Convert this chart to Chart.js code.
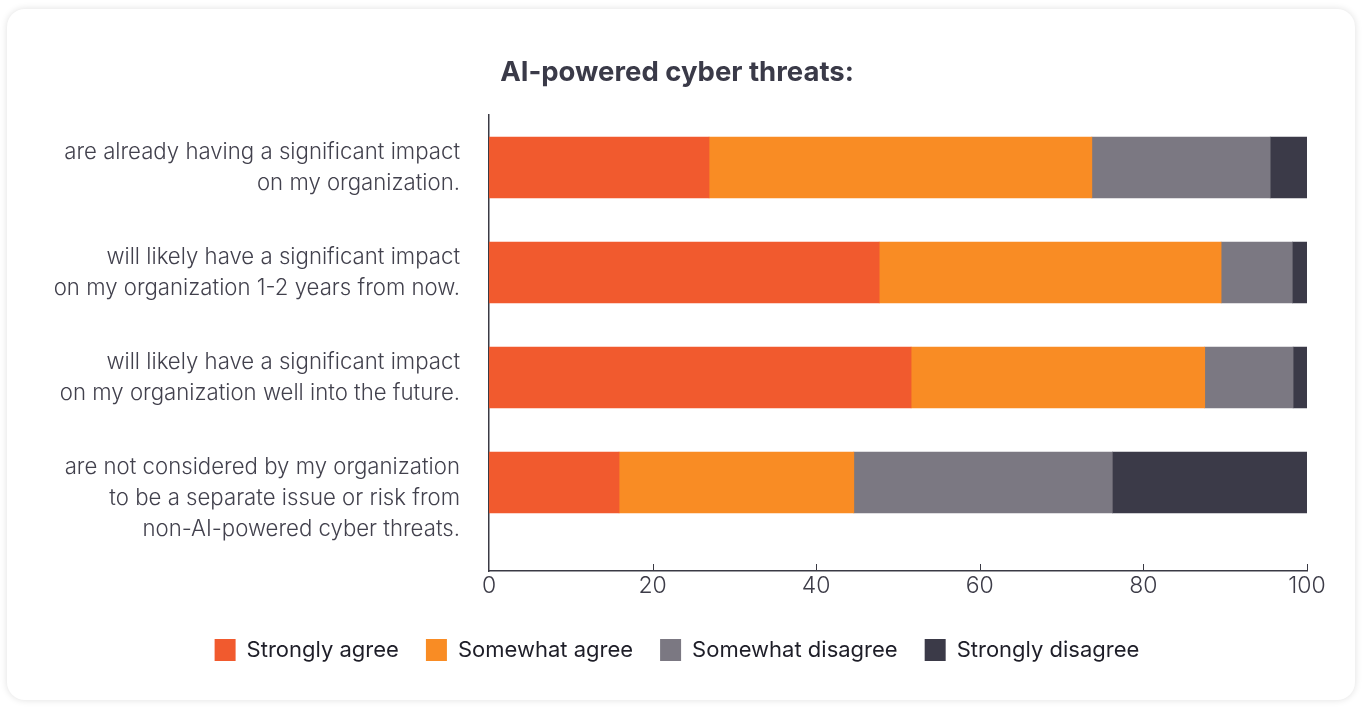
<!DOCTYPE html>
<html>
<head>
<meta charset="utf-8">
<script src="https://cdn.jsdelivr.net/npm/chart.js@4"></script>
<style>
  html, body { margin: 0; padding: 0; background: #ffffff; }
  body { width: 1362px; height: 707px; position: relative; overflow: hidden; }
  .card {
    position: absolute; left: 7px; top: 9px; width: 1348px; height: 691px;
    background: #fff; border-radius: 18px;
    box-shadow: 0 0 7px rgba(0, 0, 0, 0.13);
  }
  canvas { display: block; }
</style>
</head>
<body>
<div class="card"><canvas id="chart" width="1348" height="691"></canvas></div>
<script>
// statements (top to bottom)
const categories = [
  ["are already having a significant impact", "on my organization."],
  ["will likely have a significant impact", "on my organization 1-2 years from now."],
  ["will likely have a significant impact", "on my organization well into the future."],
  ["are not considered by my organization", "to be a separate issue or risk from", "non-AI-powered cyber threats."]
];

// percentages per response
const stronglyAgree = [26.9, 47.7, 51.6, 15.9];
const somewhatAgree = [46.8, 41.8, 35.9, 28.7];
const somewhatDisagree = [21.8, 8.7, 10.8, 31.6];
const stronglyDisagree = [4.5, 1.8, 1.8, 23.8];

const seriesNames = ["Strongly agree", "Somewhat agree", "Somewhat disagree", "Strongly disagree"];
const seriesColors = ["#f15a2e", "#f98c24", "#7b7882", "#3b3a48"];
const xTicks = [0, 20, 40, 60, 80, 100];

const axisColor = "#3a3a44";

const toPoints = (arr) => arr.map((v, i) => ({ x: v, y: i }));

// small tick marks pointing up into the plot, like the original
const innerTicks = {
  id: "innerTicks",
  afterDraw(chart) {
    const xs = chart.scales.x;
    const ctx = chart.ctx;
    const bottom = chart.chartArea.bottom;
    ctx.save();
    ctx.strokeStyle = axisColor;
    ctx.lineWidth = 1;
    xs.ticks.forEach((t) => {
      if (t.value === 0) return;
      const px = Math.round(xs.getPixelForValue(t.value)) + 0.5;
      ctx.beginPath();
      ctx.moveTo(px, bottom);
      ctx.lineTo(px, bottom - 7);
      ctx.stroke();
    });
    ctx.restore();
  }
};

const ctx = document.getElementById("chart").getContext("2d");
new Chart(ctx, {
  type: "bar",
  data: {
    datasets: [stronglyAgree, somewhatAgree, somewhatDisagree, stronglyDisagree].map((d, i) => ({
      label: seriesNames[i],
      data: toPoints(d),
      backgroundColor: seriesColors[i],
      borderWidth: 0,
      barThickness: 61
    }))
  },
  options: {
    indexAxis: "y",
    responsive: false,
    animation: false,
    layout: { padding: { left: 40, right: 48, top: 0, bottom: 29 } },
    scales: {
      x: {
        type: "linear",
        stacked: true,
        min: 0,
        max: 100,
        afterBuildTicks: (scale) => { scale.ticks = xTicks.map((v) => ({ value: v })); },
        afterFit: (scale) => { scale.height = 41; },
        grid: { display: false, drawTicks: false },
        border: { display: true, color: axisColor, width: 1.5 },
        ticks: {
          color: "#3d3c48",
          padding: 1,
          font: { family: "Inter", size: 23, weight: 300 }
        }
      },
      y: {
        type: "linear",
        stacked: true,
        reverse: true,
        offset: false,
        min: -0.5,
        max: 3.843,
        afterBuildTicks: (scale) => { scale.ticks = categories.map((c, i) => ({ value: i })); },
        afterFit: (scale) => { scale.width = 442; },
        grid: { display: false, drawTicks: false, offset: false },
        border: { display: true, color: axisColor, width: 1.5 },
        ticks: {
          padding: 29,
          color: "#42414d",
          font: { family: "Inter", size: 22.2, weight: 300, lineHeight: 1.4 },
          // three-line labels start near the bar top in the original, so pad them above
          callback: (value) => {
            const lines = categories[value];
            return lines.length > 2 ? [""].concat(lines) : lines;
          }
        }
      }
    },
    plugins: {
      title: {
        display: true,
        text: "AI-powered cyber threats:",
        color: "#3a3a48",
        font: { family: "Inter", size: 27.5, weight: "bold" },
        padding: { top: 47, bottom: 26 }
      },
      legend: {
        position: "bottom",
        labels: {
          color: "#1e1e28",
          boxWidth: 21,
          boxHeight: 22,
          padding: 27,
          font: { family: "Inter", size: 22 }
        }
      },
      tooltip: { enabled: false }
    }
  },
  plugins: [innerTicks]
});
</script>
</body>
</html>
